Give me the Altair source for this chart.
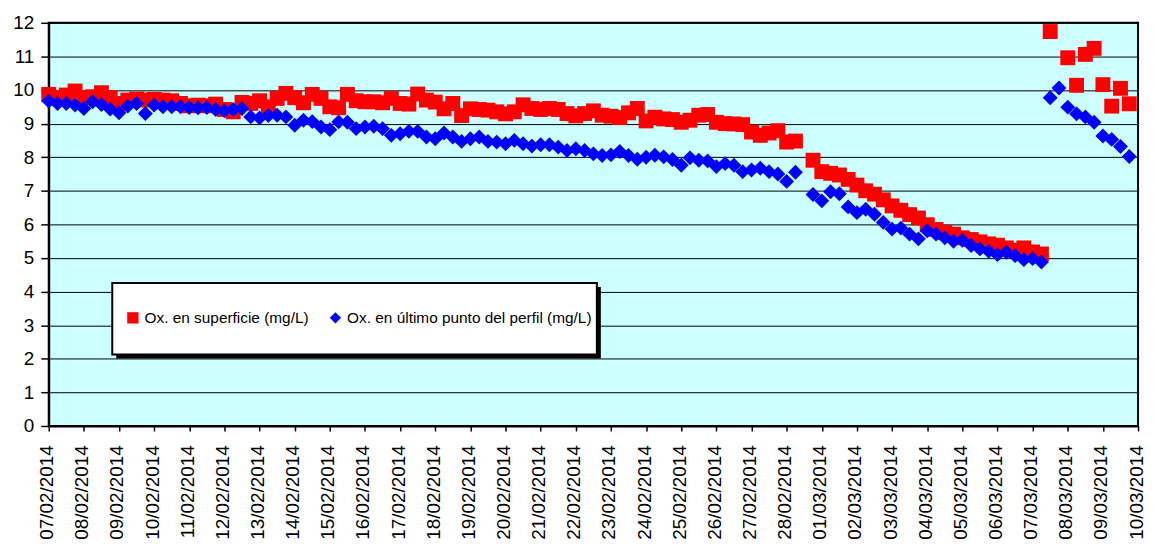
import altair as alt
import pandas as pd

# Tick labels of the x axis (one per day)
date_labels = [
    "07/02/2014", "08/02/2014", "09/02/2014", "10/02/2014", "11/02/2014",
    "12/02/2014", "13/02/2014", "14/02/2014", "15/02/2014", "16/02/2014",
    "17/02/2014", "18/02/2014", "19/02/2014", "20/02/2014", "21/02/2014",
    "22/02/2014", "23/02/2014", "24/02/2014", "25/02/2014", "26/02/2014",
    "27/02/2014", "28/02/2014", "01/03/2014", "02/03/2014", "03/03/2014",
    "04/03/2014", "05/03/2014", "06/03/2014", "07/03/2014", "08/03/2014",
    "09/03/2014", "10/03/2014",
]

series_names = ["Ox. en superficie (mg/L)", "Ox. en último punto del perfil (mg/L)"]

# Surface oxygen (mg/L), one reading every 6 hours starting 07/02/2014 00:00
surface = [
    9.87, 9.77, 9.85, 9.97, 9.77, 9.80, 9.92, 9.77, 9.60, 9.70,
    9.73, 9.70, 9.72, 9.70, 9.68, 9.60, 9.53, 9.55, 9.53, 9.58,
    9.42, 9.35, 9.63, 9.60, 9.68, 9.50, 9.75, 9.90, 9.77, 9.62,
    9.87, 9.75, 9.50, 9.47, 9.87, 9.68, 9.65, 9.65, 9.62, 9.75,
    9.60, 9.58, 9.88, 9.70, 9.64, 9.44, 9.60, 9.24, 9.44, 9.42,
    9.40, 9.35, 9.29, 9.35, 9.56, 9.45, 9.42, 9.45, 9.42, 9.30,
    9.23, 9.30, 9.38, 9.25, 9.22, 9.18, 9.32, 9.45, 9.08, 9.19,
    9.14, 9.12, 9.04, 9.10, 9.25, 9.27, 9.04, 9.00, 8.99, 8.97,
    8.75, 8.65, 8.72, 8.79, 8.45, 8.48, None,
    7.91, 7.57, 7.52, 7.47, 7.34, 7.17, 7.00, 6.90, 6.73, 6.55,
    6.42, 6.29, 6.19, 5.99, 5.85, 5.76, 5.71, 5.60, 5.55, 5.48,
    5.42, 5.38, 5.30, 5.23, 5.30, 5.18, 5.12,
    11.74, None, 10.96, 10.14, 11.06, 11.24, 10.16, 9.52, 10.05, 9.59,
]

# Oxygen at the last point of the profile (mg/L), same sampling times
bottom = [
    9.67, 9.60, 9.60, 9.55, 9.45, 9.65, 9.57, 9.43, 9.32, 9.52,
    9.60, 9.30, 9.55, 9.50, 9.50, 9.50, 9.48, 9.47, 9.48, 9.42,
    9.38, 9.42, 9.45, 9.20, 9.17, 9.24, 9.25, 9.20, 8.95, 9.10,
    9.06, 8.90, 8.82, 9.05, 9.04, 8.85, 8.90, 8.92, 8.85, 8.65,
    8.70, 8.77, 8.77, 8.60, 8.55, 8.72, 8.60, 8.47, 8.55, 8.60,
    8.47, 8.45, 8.40, 8.50, 8.40, 8.33, 8.37, 8.37, 8.30, 8.20,
    8.25, 8.20, 8.10, 8.05, 8.07, 8.17, 8.05, 7.94, 8.00, 8.06,
    8.01, 7.93, 7.76, 7.98, 7.91, 7.89, 7.72, 7.81, 7.76, 7.57,
    7.62, 7.67, 7.57, 7.50, 7.28, 7.55, None,
    6.89, 6.70, 6.97, 6.91, 6.52, 6.35, 6.45, 6.30, 6.06, 5.86,
    5.89, 5.71, 5.57, 5.81, 5.71, 5.60, 5.50, 5.53, 5.37, 5.27,
    5.20, 5.10, 5.17, 5.07, 4.95, 4.98, 4.88,
    9.77, 10.06, 9.49, 9.29, 9.20, 9.04, 8.63, 8.53, 8.32, 8.02,
]

assert len(surface) == len(bottom)
sample_day = [k / 4 for k in range(len(surface))]  # 6-hourly sampling, in days

rows = []
for name, vals in zip(series_names, [surface, bottom]):
    for t, v in zip(sample_day, vals):
        if v is not None:
            rows.append({"t": t, "v": v, "serie": name})
df = pd.DataFrame(rows)

FONT = "Liberation Sans"
label_expr = "[" + ",".join("'" + d + "'" for d in date_labels) + "][datum.value]"

legend = alt.Legend(
    title=None, orient="none", legendX=77, legendY=289,
    direction="horizontal", columnPadding=19,
    labelFont=FONT, labelFontSize=15.5, labelColor="black", labelLimit=500,
    symbolSize=130, symbolStrokeWidth=0, labelOffset=4,
)

points = alt.Chart(df).mark_point(filled=True, opacity=1, size=225, strokeWidth=0).encode(
    x=alt.X("t:Q",
            scale=alt.Scale(domain=[0, len(date_labels) - 1], nice=False, zero=False),
            axis=alt.Axis(values=list(range(len(date_labels))), labelExpr=label_expr,
                          labelAngle=270, labelFontSize=19, labelPadding=14,
                          tickSize=5, tickWidth=1.5, grid=False, title=None,
                          domainWidth=2, labelOverlap=False, labelOffset=-2)),
    y=alt.Y("v:Q",
            scale=alt.Scale(domain=[0, 12], nice=False),
            axis=alt.Axis(values=list(range(13)), title=None, grid=True,
                          gridColor="black", gridWidth=1, tickSize=8, tickWidth=1.5,
                          labelPadding=7, labelFontSize=19, domainWidth=2)),
    color=alt.Color("serie:N", scale=alt.Scale(domain=series_names, range=["#FF0000", "#0000FF"]),
                    legend=legend),
    shape=alt.Shape("serie:N", scale=alt.Scale(domain=series_names, range=["square", "diamond"]),
                    legend=legend),
    order=alt.Order("ord:Q"),
).transform_calculate(ord="datum.serie == '" + series_names[0] + "' ? 0 : 1")

one = pd.DataFrame({"k": [0]})
shadow = alt.Chart(one).mark_rect(color="black").encode(
    x=alt.value(68), x2=alt.value(556), y=alt.value(266), y2=alt.value(338))
box = alt.Chart(one).mark_rect(fill="white", stroke="black", strokeWidth=2).encode(
    x=alt.value(64), x2=alt.value(552), y=alt.value(262), y2=alt.value(334))

chart = alt.layer(points, shadow, box).properties(
    width=1097, height=406,
    autosize=alt.AutoSizeParams(type="none"),
    padding={"left": 41, "top": 13, "right": 8, "bottom": 125},
).configure_view(
    fill="#CCFFFF", stroke="black", strokeWidth=2
).configure_axis(
    labelFont=FONT, labelColor="black", domainColor="black", tickColor="black"
)

chart.save("out.html", embed_options={"renderer": "svg", "actions": False})
